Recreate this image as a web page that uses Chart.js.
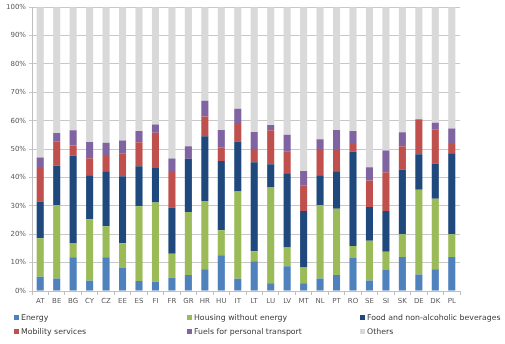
<!DOCTYPE html>
<html>
<head>
<meta charset="utf-8">
<script src="https://cdn.jsdelivr.net/npm/chart.js@4/dist/chart.umd.min.js"></script>
<style>
  html, body { margin: 0; padding: 0; background: #fff; }
  #wrap { position: relative; width: 505px; height: 344px; }
  #legend { position: absolute; left: 0; top: 0; width: 505px; height: 344px; pointer-events: none;
    font-family: "DejaVu Sans", Verdana, sans-serif; font-size: 7.8px; color: #3a3a3a; }
  .li { position: absolute; white-space: nowrap; line-height: 10px; }
  .sw { display: inline-block; width: 5px; height: 5px; margin-right: 2px; vertical-align: 0px; }
</style>
</head>
<body>
<div id="wrap">
  <canvas id="c" width="505" height="344"></canvas>
  <div id="legend"></div>
</div>
<script>
const categories = ['AT','BE','BG','CY','CZ','EE','ES','FI','FR','GR','HR','HU','IT','LT','LU','LV','MT','NL','PT','RO','SE','SI','SK','DE','DK','PL'];
const energy   = [5.0, 4.4, 11.9, 3.6, 11.9, 8.1, 3.5, 3.3, 4.7, 5.6, 7.7, 12.6, 4.3, 10.5, 2.7, 8.7, 2.7, 4.4, 5.6, 11.6, 3.7, 7.6, 12.0, 5.8, 7.7, 12.0];
const housing  = [13.6, 25.8, 4.8, 21.7, 10.9, 8.7, 26.4, 27.9, 8.4, 22.2, 24.0, 8.8, 30.8, 3.5, 33.8, 6.6, 5.6, 25.8, 23.4, 4.3, 14.0, 6.2, 8.0, 29.9, 24.8, 8.0];
const food     = [12.9, 13.9, 31.0, 15.5, 19.4, 23.6, 14.1, 12.1, 16.3, 18.8, 22.8, 24.4, 17.6, 31.4, 8.2, 26.2, 19.9, 10.6, 13.2, 33.2, 11.9, 14.4, 22.7, 12.5, 12.4, 28.5];
const mobility = [11.8, 8.5, 3.6, 6.0, 5.4, 8.1, 8.4, 12.5, 12.5, 0, 7.0, 4.7, 6.5, 4.3, 11.9, 7.7, 8.9, 8.9, 7.5, 2.7, 9.3, 13.6, 8.3, 12.3, 11.9, 3.3];
const fuels    = [3.7, 3.1, 5.3, 5.7, 4.6, 4.5, 4.0, 2.9, 4.8, 4.4, 5.5, 6.2, 5.0, 6.3, 1.9, 5.9, 5.2, 3.8, 7.0, 4.6, 4.7, 7.7, 4.9, 0, 2.5, 5.5];
const others   = [53.0, 44.3, 43.4, 47.5, 47.8, 47.0, 43.6, 41.3, 53.3, 49.0, 33.0, 43.3, 35.8, 44.0, 41.5, 44.9, 57.7, 46.5, 43.3, 43.6, 56.4, 50.5, 44.1, 39.5, 40.7, 42.7];
const yTicks = [0,10,20,30,40,50,60,70,80,90,100];

const series = [
  {label: 'Energy', data: energy, color: '#4F81BD'},
  {label: 'Housing without energy', data: housing, color: '#9BBB59'},
  {label: 'Food and non-alcoholic beverages', data: food, color: '#1F497D'},
  {label: 'Mobility services', data: mobility, color: '#C0504D'},
  {label: 'Fuels for personal transport', data: fuels, color: '#8064A2'},
  {label: 'Others', data: others, color: '#D9D9D9'}
];

const FONT = '"DejaVu Sans", Verdana, sans-serif';

new Chart(document.getElementById('c'), {
  type: 'bar',
  data: {
    labels: categories,
    datasets: series.map(s => ({
      label: s.label, data: s.data, backgroundColor: s.color, borderWidth: 0,
      barPercentage: 0.43, categoryPercentage: 1.0
    }))
  },
  options: {
    responsive: false,
    animation: false,
    devicePixelRatio: 1,
    layout: { padding: { top: 6, right: 45, bottom: 33, left: 0 } },
    plugins: { legend: { display: false }, tooltip: { enabled: false } },
    scales: {
      x: {
        stacked: true,
        afterFit: s => { s.height = 20; },
        grid: { offset: true, drawOnChartArea: false, drawTicks: true, tickLength: 4, color: '#bfbfbf' },
        border: { color: '#bfbfbf' },
        ticks: { font: { family: FONT, size: 7 }, color: '#595959', padding: 2, maxRotation: 0, autoSkip: false }
      },
      y: {
        stacked: true,
        min: 0, max: 100,
        afterFit: s => { s.width = 32; },
        afterBuildTicks: s => { s.ticks = yTicks.map(v => ({value: v})); },
        grid: { color: '#c8c8c8', lineWidth: 1, tickLength: 3, drawTicks: true },
        border: { color: '#bfbfbf' },
        ticks: { font: { family: FONT, size: 7 }, color: '#595959', padding: 3, callback: v => v + '%' }
      }
    }
  }
});

// HTML legend in three columns, two rows
const leg = document.getElementById('legend');
const colX = [14, 187, 360];
const rowY = [313, 327];
series.forEach((s, i) => {
  const d = document.createElement('div');
  d.className = 'li';
  d.style.left = colX[i % 3] + 'px';
  d.style.top = rowY[Math.floor(i / 3)] + 'px';
  d.innerHTML = '<span class="sw" style="background:' + s.color + '"></span>' + s.label;
  leg.appendChild(d);
});
</script>
</body>
</html>
